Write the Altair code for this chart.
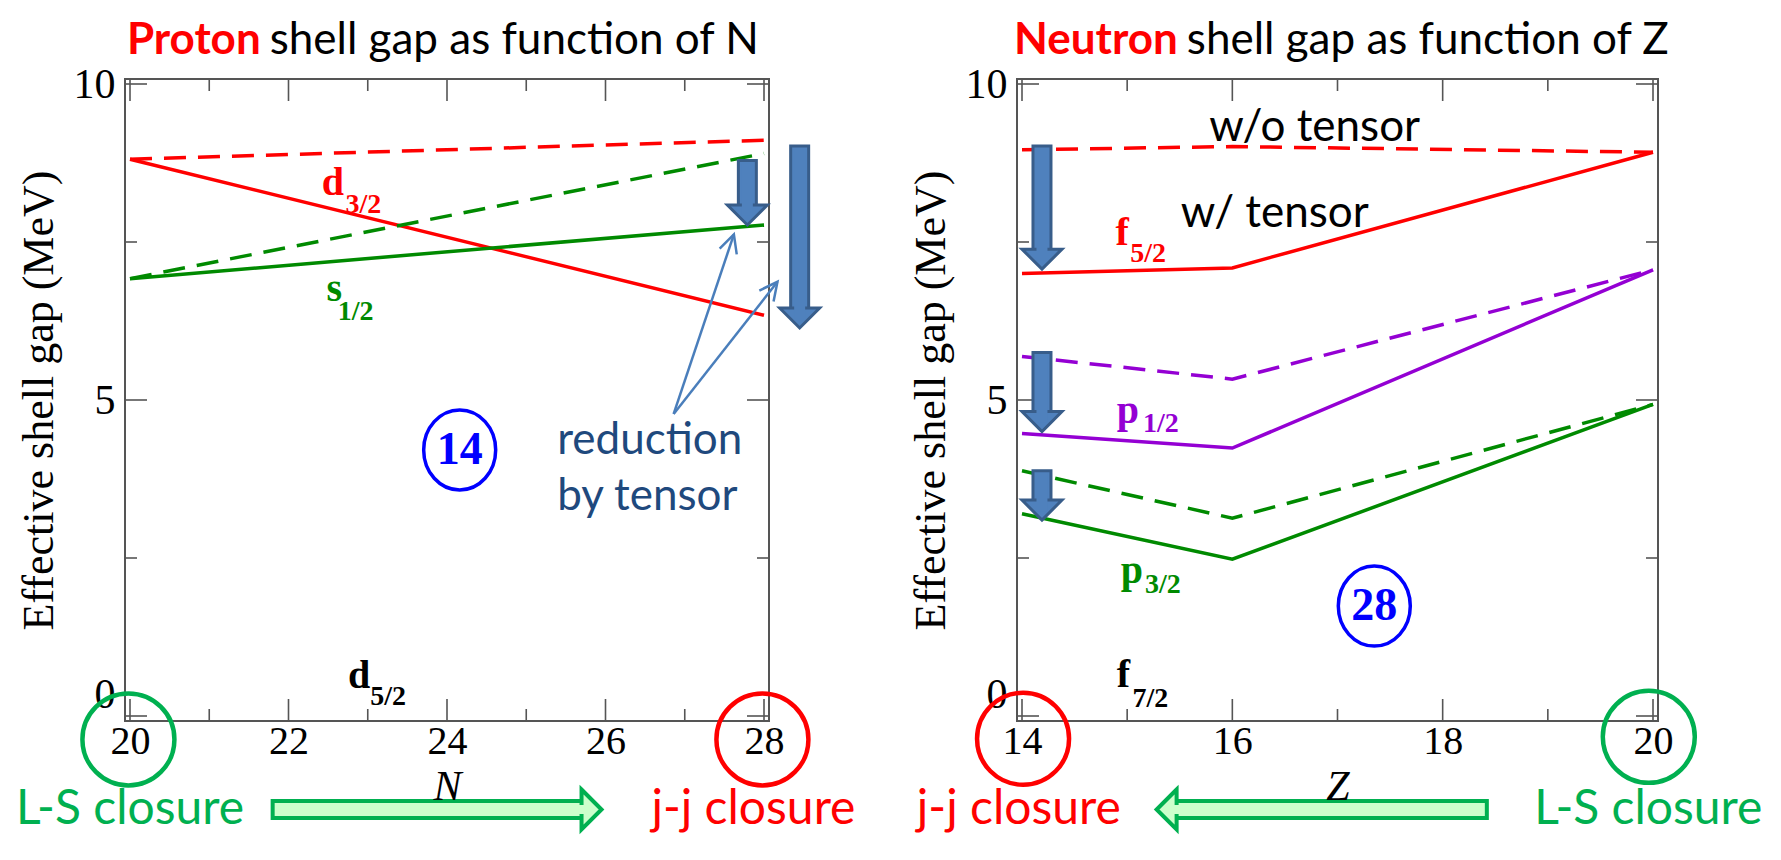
import altair as alt
import pandas as pd

# ---------------- data ----------------
N_pts = [20, 28]
d32_wo = [8.81, 9.11]
d32_w = [8.81, 6.34]
s12_wo = [6.92, 8.90]
s12_w = [6.92, 7.77]

Z_pts = [14, 16, 20]
f52_wo = [8.96, 9.01, 8.92]
f52_w = [7.00, 7.09, 8.92]
p12_wo = [5.69, 5.33, 7.06]
p12_w = [4.47, 4.24, 7.06]
p32_wo = [3.88, 3.13, 4.93]
p32_w = [3.20, 2.48, 4.93]

N_major = [20, 22, 24, 26, 28]
N_minor = [21, 23, 25, 27]
Z_major = [14, 16, 18, 20]
Z_minor = [15, 17, 19]
E_major = [0, 5, 10]
E_minor = [2.5, 7.5]

# orbital labels (letter + subscript)
L_main = ["d", "s", "d"]
L_sub = ["3/2", "1/2", "5/2"]
L_x = [22.42, 22.48, 22.75]
L_y = [8.24, 6.57, 0.45]
L_sx = [22.72, 22.62, 23.03]
L_sy = [7.96, 6.26, 0.17]

R_main = ["f", "p", "p", "f"]
R_sub = ["5/2", "1/2", "3/2", "7/2"]
R_x = [14.89, 14.90, 14.94, 14.90]
R_y = [7.46, 4.63, 2.11, 0.46]
R_sx = [15.03, 15.15, 15.17, 15.05]
R_sy = [7.18, 4.49, 1.95, 0.15]

# tensor-reduction block arrows: x, start value, end value
L_arr_x = [27.79, 28.45]
L_arr_from = [8.79, 9.02]
L_arr_to = [7.77, 6.14]
R_arr_x = [14.19, 14.19, 14.19]
R_arr_from = [9.02, 5.75, 3.88]
R_arr_to = [7.07, 4.50, 3.10]

# thin pointer arrows ("reduction by tensor")
P_from_x = [26.86, 26.86]
P_from_y = [4.78, 4.78]
P_to_x = [27.62, 28.17]
P_to_y = [7.62, 6.87]
P_angle = [18.4, 37.8]

# ---------------- style ----------------
SERIF = "Liberation Serif"
SANS = "Lato"
RED = "#FF0000"
GREEN = "#008A00"
PURPLE = "#9400D3"
FRAME = "#555555"
AF = "#4F81BD"
AS = "#385D8A"
CG = "#00B050"
LG = "#CCFFCC"

H = 642
HEAD_DOWN = "M -1 -0.5 L 1 -0.5 L 0 0.5 Z"
HEAD_RIGHT = "M -0.5 -1 L 0.5 0 L -0.5 1 Z"
HEAD_LEFT = "M 0.5 -1 L -0.5 0 L 0.5 1 Z"
VHEAD = "M -0.45 0.9 L 0 0 L 0.45 0.9"
ELL = "M -0.9 0 A 0.9 1 0 1 0 0.9 0 A 0.9 1 0 1 0 -0.9 0 Z"


def panel(W, xdom, xpts, xmajor, xminor, xtitle, series, lab, arrows,
          title_b, title_word, title_rest, circ, closure, garrow, extras):
    xs = alt.Scale(domain=xdom, nice=False, zero=False)
    ys = alt.Scale(domain=[0, 10], nice=False, zero=False)

    xaxis = alt.Axis(values=xmajor, format="d", labelFont=SERIF, labelFontSize=40,
                     labelColor="black", labelPadding=0, ticks=False, tickSize=0,
                     domain=False, grid=False, labelFlush=False, labelOverlap=False,
                     title=xtitle, titleFont=SERIF, titleFontSize=42,
                     titleFontStyle="italic", titleFontWeight="normal",
                     titleColor="black", titlePadding=5, zindex=1)
    yaxis = alt.Axis(values=E_major, format="d", labelFont=SERIF, labelFontSize=42,
                     labelColor="black", labelPadding=10, ticks=False, tickSize=0,
                     labelBaseline=alt.condition("datum.value == 0", alt.value("bottom"),
                                                 alt.value("middle")),
                     domain=False, grid=False, labelFlush=False, labelOverlap=False,
                     title="Effective shell gap (MeV)", titleFont=SERIF,
                     titleFontSize=44, titleFontWeight="normal", titleColor="black",
                     titlePadding=12)

    def X(f):
        return alt.X(f, type="quantitative", scale=xs, axis=xaxis)

    def Y(f):
        return alt.Y(f, type="quantitative", scale=ys, axis=yaxis)

    layers = []
    for vals, col, dashed in series:
        df = pd.DataFrame({"x": xpts, "v": vals})
        mk = dict(strokeWidth=3.5, color=col, clip=False)
        if dashed:
            mk["strokeDash"] = [22, 12]
        layers.append(alt.Chart(df).mark_line(**mk).encode(x=X("x"), y=Y("v")))

    # inward ticks on all four sides
    xt_maj = pd.DataFrame({"t": xmajor})
    xt_min = pd.DataFrame({"t": xminor})
    yt_maj = pd.DataFrame({"t": E_major})
    yt_min = pd.DataFrame({"t": E_minor})
    rule = dict(color=FRAME, strokeWidth=1.6)
    for df, ln in ((xt_maj, 22), (xt_min, 12)):
        layers.append(alt.Chart(df).mark_rule(**rule).encode(
            x=X("t"), y=alt.value(H), y2=alt.value(H - ln)))
        layers.append(alt.Chart(df).mark_rule(**rule).encode(
            x=X("t"), y=alt.value(0), y2=alt.value(ln)))
    for df, ln in ((yt_maj, 22), (yt_min, 12)):
        layers.append(alt.Chart(df).mark_rule(**rule).encode(
            y=Y("t"), x=alt.value(0), x2=alt.value(ln)))
        layers.append(alt.Chart(df).mark_rule(**rule).encode(
            y=Y("t"), x=alt.value(W), x2=alt.value(W - ln)))

    # orbital labels
    for main, sub, lx, ly, sx, sy, col in lab:
        df = pd.DataFrame({"m": [main], "s": [sub], "lx": [lx], "ly": [ly],
                           "sx": [sx], "sy": [sy]})
        layers.append(alt.Chart(df).mark_text(font=SERIF, fontSize=40, fontWeight="bold",
                                              align="left", baseline="alphabetic",
                                              color=col).encode(
            x=X("lx"), y=Y("ly"), text="m:N"))
        layers.append(alt.Chart(df).mark_text(font=SERIF, fontSize=28, fontWeight="bold",
                                              align="left", baseline="alphabetic",
                                              color=col).encode(
            x=X("sx"), y=Y("sy"), text="s:N"))

    # block arrows (tensor reduction)
    layers.append(alt.Chart(arrows).mark_bar(width=18, fill=AF, stroke=AS, strokeWidth=3,
                                             y2Offset=-12, clip=False).encode(
        x=X("ax"), y=Y("a0"), y2=alt.Y2("a1")))
    layers.append(alt.Chart(arrows).mark_point(shape=HEAD_DOWN, size=1600, filled=True,
                                               fill=AF, stroke=AS, strokeWidth=3, opacity=1,
                                               yOffset=-10, clip=False).encode(
        x=X("ax"), y=Y("a1")))
    layers.append(alt.Chart(arrows).mark_rule(color=AF, strokeWidth=11, yOffset=3,
                                              y2Offset=-9, strokeCap="butt").encode(
        x=X("ax"), y=Y("a0"), y2=alt.Y2("a1")))

    # title (two colours)
    tdf = pd.DataFrame({"x": [title_b], "y": [10.48], "w": [title_word], "r": [title_rest]})
    layers.append(alt.Chart(tdf).mark_text(font=SANS, fontSize=44, fontWeight="bold",
                                           color=RED, align="right", dx=-4,
                                           baseline="alphabetic").encode(
        x=X("x"), y=Y("y"), text="w:N"))
    layers.append(alt.Chart(tdf).mark_text(font=SANS, fontSize=44, color="black",
                                           align="left", dx=5,
                                           baseline="alphabetic").encode(
        x=X("x"), y=Y("y"), text="r:N"))

    # magic number circle
    mdf = pd.DataFrame({"x": [circ[0]], "y": [circ[1]], "t": [circ[2]]})
    layers.append(alt.Chart(mdf).mark_point(shape=ELL, size=circ[3], filled=False,
                                            stroke="#0000FF", strokeWidth=3.5, opacity=1).encode(
        x=X("x"), y=Y("y")))
    layers.append(alt.Chart(mdf).mark_text(font=SERIF, fontSize=46, fontWeight="bold",
                                           color="#0000FF", align="center",
                                           baseline="middle").encode(
        x=X("x"), y=Y("y"), text="t:N"))

    # closure circles and texts
    for cx, cy, col, txt, tx in closure:
        cdf = pd.DataFrame({"x": [cx], "y": [cy], "tx": [tx], "ty": [garrow["y"]], "t": [txt]})
        layers.append(alt.Chart(cdf).mark_point(shape="circle", size=8464, filled=False,
                                                stroke=col, strokeWidth=4.5, opacity=1).encode(
            x=X("x"), y=Y("y")))
        layers.append(alt.Chart(cdf).mark_text(font=SANS, fontSize=48, color=col,
                                               align="left", baseline="middle").encode(
            x=X("tx"), y=Y("ty"), text="t:N"))

    # green direction arrow
    gdf = pd.DataFrame({"g0": [garrow["tail"]], "g1": [garrow["tip"]], "gy": [garrow["y"]]})
    right = garrow["tip"] > garrow["tail"]
    sgn = 1 if right else -1
    layers.append(alt.Chart(gdf).mark_bar(height=17, fill=LG, stroke=CG, strokeWidth=4,
                                          x2Offset=-12 * sgn, clip=False).encode(
        x=X("g0"), x2=alt.X2("g1"), y=Y("gy")))
    layers.append(alt.Chart(gdf).mark_point(shape=HEAD_RIGHT if right else HEAD_LEFT,
                                            size=1600, filled=True, fill=LG, stroke=CG,
                                            strokeWidth=4, opacity=1,
                                            xOffset=-10 * sgn).encode(
        x=X("g1"), y=Y("gy")))
    layers.append(alt.Chart(gdf).mark_rule(color=LG, strokeWidth=9, xOffset=3 * sgn,
                                           x2Offset=-8 * sgn, strokeCap="butt").encode(
        x=X("g0"), x2=alt.X2("g1"), y=Y("gy")))

    for e in extras:
        layers.append(e(X, Y))

    return alt.layer(*layers).properties(width=W, height=H)


# ---------------- left panel ----------------
left_series = [(d32_wo, RED, True), (d32_w, RED, False),
               (s12_wo, GREEN, True), (s12_w, GREEN, False)]
L_cols = [RED, GREEN, "black"]
left_lab = list(zip(L_main, L_sub, L_x, L_y, L_sx, L_sy, L_cols))
left_arr = pd.DataFrame({"ax": L_arr_x, "a0": L_arr_from, "a1": L_arr_to})


def pointers(X, Y):
    pdf = pd.DataFrame({"x0": P_from_x, "y0": P_from_y, "x1": P_to_x, "y1": P_to_y,
                        "ang": P_angle})
    lines = alt.Chart(pdf).mark_rule(color="#4A7EBB", strokeWidth=2.5).encode(
        x=X("x0"), y=Y("y0"), x2=alt.X2("x1"), y2=alt.Y2("y1"))
    heads = alt.Chart(pdf).mark_point(shape=VHEAD, size=1600, filled=False,
                                      stroke="#4A7EBB", strokeWidth=2.5, opacity=1).encode(
        x=X("x1"), y=Y("y1"), angle=alt.Angle("ang:Q", scale=None))
    return lines + heads


def reduction_text(X, Y):
    rdf = pd.DataFrame({"x": [25.39, 25.39], "y": [4.14, 3.26],
                        "t": ["reduction", "by tensor"]})
    return alt.Chart(rdf).mark_text(font=SANS, fontSize=44, color="#1F497D", align="left",
                                    baseline="alphabetic").encode(
        x=X("x"), y=Y("y"), text="t:N")


GY = -1.48

left = panel(644, [20, 28], N_pts, N_major, N_minor, "N", left_series, left_lab, left_arr,
             21.70, "Proton", "shell gap as function of N",
             (24.16, 4.21, "14", 6400),
             [(19.98, -0.37, CG, "L-S closure", 18.56), (27.98, -0.37, RED, "j-j closure", 26.58)],
             {"tail": 21.80, "tip": 25.95, "y": GY},
             [pointers, reduction_text])

# ---------------- right panel ----------------
right_series = [(f52_wo, RED, True), (f52_w, RED, False),
                (p12_wo, PURPLE, True), (p12_w, PURPLE, False),
                (p32_wo, GREEN, True), (p32_w, GREEN, False)]
R_cols = [RED, PURPLE, GREEN, "black"]
right_lab = list(zip(R_main, R_sub, R_x, R_y, R_sx, R_sy, R_cols))
right_arr = pd.DataFrame({"ax": R_arr_x, "a0": R_arr_from, "a1": R_arr_to})


def tensor_text(X, Y):
    tdf = pd.DataFrame({"x": [15.78, 15.51], "y": [9.10, 7.73],
                        "t": ["w/o tensor", "w/ tensor"]})
    return alt.Chart(tdf).mark_text(font=SANS, fontSize=44, color="black", align="left",
                                    baseline="alphabetic").encode(
        x=X("x"), y=Y("y"), text="t:N")


right = panel(641, [14, 20], Z_pts, Z_major, Z_minor, "Z", right_series, right_lab, right_arr,
              15.52, "Neutron", "shell gap as function of Z",
              (17.35, 1.74, "28", 6400),
              [(14.01, -0.36, RED, "j-j closure", 13.0), (19.96, -0.33, CG, "L-S closure", 18.87)],
              {"tail": 18.42, "tip": 15.28, "y": GY},
              [tensor_text])

chart = alt.hconcat(left, right, spacing=248, bounds="flush").properties(
    padding={"left": 6, "top": 9, "right": 0, "bottom": 0}
).configure_view(stroke=FRAME, strokeWidth=2)

chart.save("out.html", embed_options={"renderer": "svg", "actions": False})
